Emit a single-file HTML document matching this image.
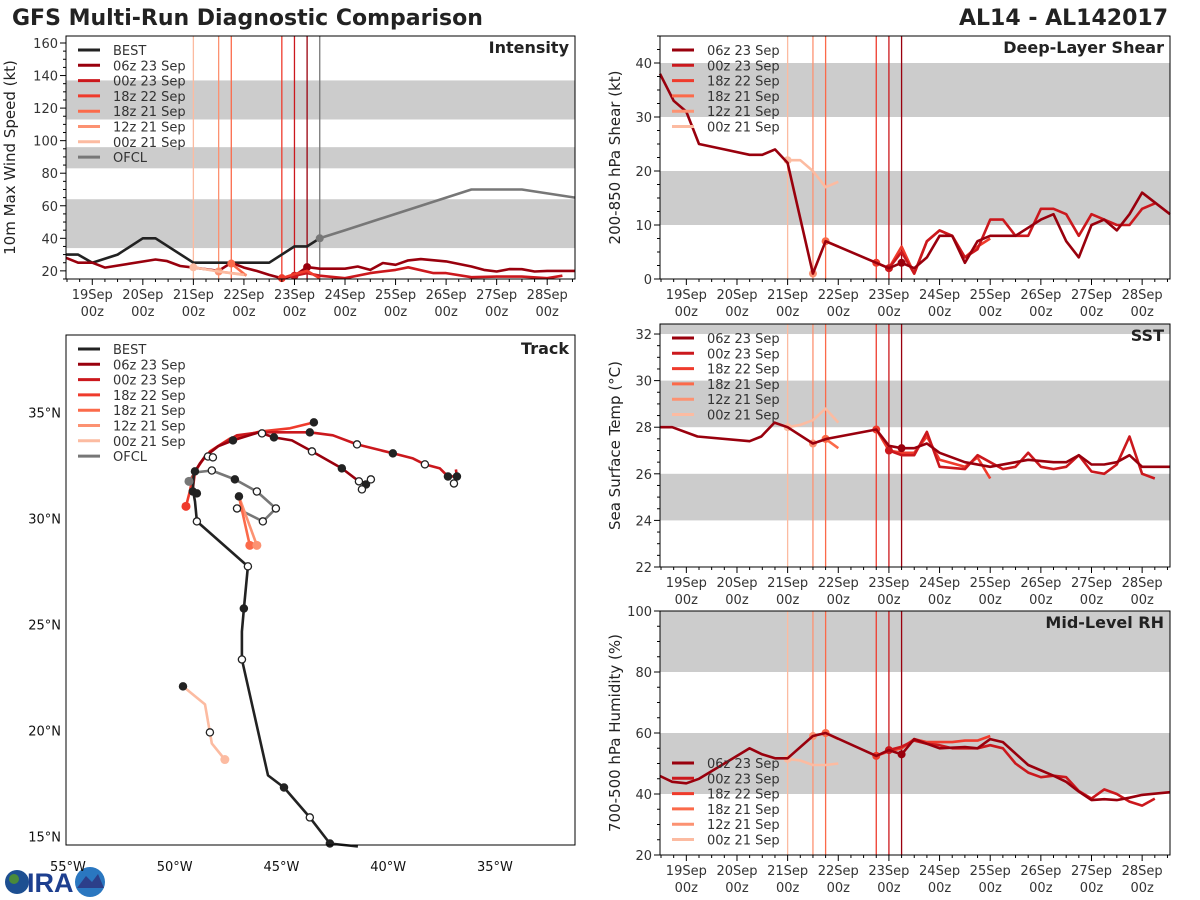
<!DOCTYPE html>
<html><head><meta charset="utf-8"><title>GFS Multi-Run Diagnostic Comparison</title>
<style>
html,body{margin:0;padding:0;background:#fff;}
svg{display:block;font-family:"DejaVu Sans","Liberation Sans",sans-serif;}
</style></head>
<body>
<svg id="chart" xmlns="http://www.w3.org/2000/svg" width="1200" height="900" viewBox="0 0 1200 900">
<rect x="0" y="0" width="1200" height="900" fill="#fff"/>
<text x="12" y="25" font-size="22" font-weight="bold" fill="#222">GFS Multi-Run Diagnostic Comparison</text>
<text x="1168" y="25" font-size="22" font-weight="bold" fill="#222" text-anchor="end">AL14 - AL142017</text>
<g>
<circle cx="17" cy="882" r="12" fill="#1d4f91"/>
<circle cx="14" cy="879" r="5" fill="#4a8a3a"/>
<text x="27" y="892" font-size="27" font-weight="bold" fill="#1d3f8f" font-family="Liberation Sans, sans-serif">IRA</text>
<circle cx="90" cy="882" r="15" fill="#2a77c0"/>
<path d="M77,888 L86,876 L92,882 L98,874 L104,888 Z" fill="#2c3f8a"/>
</g>
</svg>
<script>
// ---------- data (day 0 = 19 Sep 00z) ----------
const dayLabels = ["19Sep","20Sep","21Sep","22Sep","23Sep","24Sep","25Sep","26Sep","27Sep","28Sep"];
const runNames = ["06z 23 Sep","00z 23 Sep","18z 22 Sep","18z 21 Sep","12z 21 Sep","00z 21 Sep"];
const runColors = ["#99000d","#cb181d","#ef3b2c","#fb6a4a","#fc9272","#fcbba1"];
const runTimes = [4.25,4.0,3.75,2.75,2.5,2.0];
const ofclTime = 4.5;

// Intensity (kt)
const intBestT = [-0.52,-0.28,0,0.5,1,1.25,2,3.5,4,4.25,4.5];
const intBestV = [30,30,25,30,40,40,25,25,35,35,40];
const intOfclT = [4.5,5,7.5,8.5,9.55];
const intOfclV = [40,45,70,70,65];
const int06T = [-0.52,-0.28,0,0.25,1.25,1.48,1.74,2.0,2.25,2.5,2.75,3.0,3.25,3.5,3.75,4.0,4.25,4.5,5.0,5.25,5.5,5.75,6.0,6.25,6.5,7.0,7.5,7.75,8.0,8.25,8.5,8.75,9.0,9.55];
const int06V = [28,25,25,22,27,26,23,22,21,20,25,22,20,17.5,15.5,17,22.3,21.3,21.3,22.7,20.6,24.8,23.7,26.4,27.2,25.8,22.7,20.6,19.6,21.1,21,19.6,20,20];
const int00T = [4.0,4.25,4.5,5.0,5.5,6.0,6.25,6.75,7.0,7.5,8.0,8.5,9.0,9.3];
const int00V = [17,18.6,17,15.5,18.6,20.6,22.2,18.6,18.6,16.1,16.5,16.5,15.5,17];
const int18z22T = [3.75,4.0,4.25,4.5];
const int18z22V = [15.5,18,20,15.5];
const int18z21T = [2.75,3.05];
const int18z21V = [24.5,17];
const int12z21T = [2.5,3.05];
const int12z21V = [19.6,17.5];
const int00z21T = [2.0,2.5,3.0];
const int00z21V = [22.2,19.6,17.5];

// Shear (kt)
const shr06T = [-0.52,-0.25,0,0.25,0.75,1.25,1.5,1.75,2.0,2.5,2.75,3.75,4.0,4.25,4.5,4.75,5.0,5.25,5.5,5.75,6.0,6.5,7.0,7.25,7.5,7.75,8.0,8.25,8.5,8.75,9.0,9.55];
const shr06V = [38,33,31,25,24,23,23,24,21.5,1,7,3,2,3,2,4,8,8,3,7,8,8,11,12,7,4,10,11,9,12,16,12];
const shr00T = [4.0,4.25,4.5,4.75,5.0,5.25,5.5,5.75,6.0,6.25,6.5,6.75,7.0,7.25,7.5,7.75,8.0,8.25,8.5,8.75,9.0,9.25];
const shr00V = [2,5,1,7,9,8,4,5.5,11,11,8,8,13,13,12,8,12,11,10,10,13,14];
const shr18z22T = [3.75,4.0,4.25,4.5,4.75,5.0,5.25,5.5,5.75,6.0];
const shr18z22V = [3,2,6,1,7,9,8,4,6,7.5];
const shr18z21T = [2.75,3.0];
const shr18z21V = [7,6];
const shr12z21T = [2.5];
const shr12z21V = [1];
const shr00z21T = [2.0,2.25,2.5,2.75,3.0];
const shr00z21V = [22,22,20,17,18];

// SST (C)
const sst06T = [-0.52,-0.28,0.22,1.25,1.48,1.74,2.0,2.5,2.77,3.75,4.0,4.25,4.5,4.75,5.0,5.5,6.0,6.5,6.75,7.25,7.5,7.75,8.0,8.25,8.5,8.75,9.0,9.55];
const sst06V = [28,28,27.6,27.4,27.6,28.2,28,27.3,27.5,27.9,27.2,27.1,27.1,27.3,26.9,26.5,26.3,26.5,26.6,26.5,26.5,26.8,26.4,26.4,26.5,26.8,26.3,26.3];
const sst00T = [4.0,4.25,4.5,4.75,5.0,5.5,5.75,6.0,6.25,6.5,6.75,7.0,7.25,7.5,7.75,8.0,8.25,8.5,8.75,9.0,9.25];
const sst00V = [27.0,26.8,26.8,27.8,26.3,26.2,26.8,26.5,26.2,26.3,26.9,26.3,26.2,26.3,26.8,26.1,26.0,26.4,27.6,26.0,25.8];
const sst18z22T = [3.75,4.0,4.25,4.5,4.75,5.0,5.5,5.75,6.0];
const sst18z22V = [27.9,27.0,26.9,26.9,27.6,26.6,26.3,26.7,25.8];
const sst18z21T = [2.75,3.0];
const sst18z21V = [27.5,27.1];
const sst12z21T = [2.5];
const sst12z21V = [27.3];
const sst00z21T = [2.0,2.25,2.5,2.75,3.0];
const sst00z21V = [28.0,28.1,28.3,28.8,28.2];

// RH (%)
const rh06T = [-0.52,-0.28,0,0.25,1.25,1.5,1.75,2.0,2.5,2.75,3.75,4.0,4.25,4.5,5.0,5.5,5.75,6.0,6.25,6.75,7.25,7.5,7.75,8.0,8.25,8.5,8.75,9.0,9.55];
const rh06V = [45.9,44,43.5,45,55,53,51.7,51.7,59,60,52.5,54.4,53,58,55,55.4,55,58,57,49.5,46,44,40.8,38,38.3,38,38.8,39.7,40.6];
const rh00T = [4.0,4.25,4.5,4.75,5.0,5.25,5.5,5.75,6.0,6.25,6.5,6.75,7.0,7.25,7.5,7.75,8.0,8.25,8.5,8.75,9.0,9.25];
const rh00V = [54.4,55.5,57.5,56.5,56,55,55,55,56,55,50,47,45.5,46,45.5,41,38.5,41.5,40,37.5,36.2,38.5];
const rh18z22T = [3.75,4.0,4.25,4.5,4.75,5.0,5.25,5.5,5.75,6.0];
const rh18z22V = [52.5,54,55,58,57,57,57,57.5,57.5,59];
const rh18z21T = [2.75,3.0];
const rh18z21V = [60,58];
const rh12z21T = [2.5];
const rh12z21V = [59];
const rh00z21T = [2.0,2.25,2.5,2.75,3.0];
const rh00z21V = [51.5,51,49.5,49.5,50];

// Track (lon, lat)
const trkBestLon = [-41.42,-42.73,-43.67,-44.88,-45.63,-46.85,-46.85,-46.76,-46.57,-48.96,-49.05,-49.15,-49.10];
const trkBestLat = [14.53,14.67,15.90,17.31,17.88,23.35,24.67,25.75,27.74,29.86,30.80,31.37,32.22];
const trkOfclLon = [-49.33,-49.05,-48.26,-47.18,-46.15,-45.26,-45.87,-47.08];
const trkOfclLat = [31.75,32.17,32.26,31.84,31.27,30.47,29.86,30.47];
const trk06Lon = [-49.05,-48.82,-48.58,-47.97,-47.27,-46.05,-45.35,-44.51,-43.57,-42.17,-41.37,-41.00,-40.81];
const trk06Lat = [32.22,32.59,32.92,33.40,33.68,34.06,33.82,33.68,33.16,32.36,31.75,31.65,31.84];
const trk00Lon = [-49.15,-49.05,-48.58,-47.97,-47.08,-46.0,-43.67,-42.59,-41.46,-39.78,-38.84,-38.28,-37.58,-37.2,-36.78,-36.83];
const trk00Lat = [31.37,32.22,32.92,33.40,33.92,34.06,34.06,33.92,33.49,33.07,32.83,32.55,32.36,31.98,31.98,32.31];
const trk18z22Lon = [-49.47,-49.29,-49.15,-48.82,-48.35,-47.41,-46.0,-44.6,-43.48];
const trk18z22Lat = [30.57,31.27,31.98,32.59,33.16,33.77,34.10,34.25,34.53];
const trk18z21Lon = [-46.99,-46.48];
const trk18z21Lat = [31.04,28.73];
const trk12z21Lon = [-46.99,-46.15];
const trk12z21Lat = [31.04,28.73];
const trk00z21Lon = [-49.61,-48.58,-48.35,-48.26,-47.65];
const trk00z21Lat = [22.08,21.23,19.91,19.39,18.63];
const mkLon = [-49.05,-48.44,-48.21,-47.27,-45.91,-45.35,-43.67,-43.57,-42.17,-41.46,-41.37,-41.04,-41.23,-40.81,-39.78,-38.28,-37.20,-36.78,-36.92,-43.48,-49.15,-48.96,-48.26,-47.18,-46.15,-45.26,-45.87,-47.08,-46.99,-48.96,-46.57,-46.76,-46.85,-44.88,-43.67,-42.73,-49.61,-48.35];
const mkLat = [32.22,32.92,32.88,33.68,34.01,33.82,34.06,33.16,32.36,33.49,31.75,31.60,31.37,31.84,33.07,32.55,31.98,31.98,31.65,34.53,31.27,31.18,32.26,31.84,31.27,30.47,29.86,30.47,31.04,29.86,27.74,25.75,23.35,17.31,15.90,14.67,22.08,19.91];
const mkFilled = [1,0,0,1,0,1,1,0,1,0,0,1,0,0,1,0,1,1,0,1,1,1,0,1,0,0,0,0,1,0,0,1,0,1,0,1,1,0];

// ---------- drawing ----------
const svg = document.getElementById('chart');
const NS = 'http://www.w3.org/2000/svg';
function mk(tag, attrs, name, parent) {
  const el = document.createElementNS(NS, tag);
  for (const k in attrs) el.setAttribute(k, attrs[k]);
  
  
  (parent || svg).appendChild(el);
  return el;
}
const D0 = -0.52, D1 = 9.55;

function timePanel(p) {
  const xs = d => p.x0 + (d - D0) / (D1 - D0) * (p.x1 - p.x0);
  const ys = v => p.y1 - (v - p.vmin) / (p.vmax - p.vmin) * (p.y1 - p.y0);
  const g = mk('g', {}, p.name);
  p.bands.forEach((b, i) => {
    const top = ys(Math.min(b[1], p.vmax)), bot = ys(b[0]);
    mk('rect', {x: p.x0, y: top, width: p.x1 - p.x0, height: bot - top, fill: '#cccccc'}, p.name + '-band-' + i, g);
  });
  runTimes.forEach((t, i) => {
    mk('line', {x1: xs(t), x2: xs(t), y1: p.y0, y2: p.y1, stroke: runColors[i], 'stroke-width': 1.3}, 'run-line-' + i, g);
  });
  if (p.ofcl) mk('line', {x1: xs(ofclTime), x2: xs(ofclTime), y1: p.y0, y2: p.y1, stroke: '#777', 'stroke-width': 1.3}, 'ofcl-run-line', g);
  p.series.forEach(s => {
    const pts = s.t.map((t, i) => xs(t).toFixed(1) + ',' + ys(s.v[i]).toFixed(1)).join(' ');
    if (s.t.length > 1) mk('polyline', {points: pts, fill: 'none', stroke: s.c, 'stroke-width': 2.6, 'stroke-linejoin': 'round'}, s.n, g);
    if (s.dot !== undefined) mk('circle', {cx: xs(s.t[s.dot]), cy: ys(s.v[s.dot]), r: 4, fill: s.c}, s.n + '-init-dot', g);
  });
  mk('rect', {x: p.x0, y: p.y0, width: p.x1 - p.x0, height: p.y1 - p.y0, fill: 'none', stroke: '#000', 'stroke-width': 1}, p.name + '-frame', g);
  for (let q = Math.ceil(D0 * 4); q <= Math.floor(D1 * 4); q++) {
    const d = q / 4, x = xs(d), major = q % 4 === 0;
    mk('line', {x1: x, x2: x, y1: p.y1, y2: p.y1 + (major ? 6 : 3), stroke: '#000'}, 'x-tick', g);
    if (major) {
      const t1 = mk('text', {x: x, y: p.y1 + 20, 'font-size': 13, fill: '#333', 'text-anchor': 'middle'}, 'x-tick-label-date', g);
      t1.textContent = dayLabels[q / 4];
      const t2 = mk('text', {x: x, y: p.y1 + 37, 'font-size': 13, fill: '#333', 'text-anchor': 'middle'}, 'x-tick-label-hour', g);
      t2.textContent = '00z';
    }
  }
  for (let v = p.vmin; v <= p.vmax + 1e-6; v += p.minor) {
    const vv = Math.round(v * 100) / 100;
    const y = ys(vv);
    const major = Math.abs(vv / p.major - Math.round(vv / p.major)) < 1e-6;
    mk('line', {x1: p.x0 - (major ? 6 : 3), x2: p.x0, y1: y, y2: y, stroke: '#000'}, 'y-tick', g);
    if (major && vv >= p.labMin) {
      const t = mk('text', {x: p.x0 - 8, y: y + 5, 'font-size': 13, fill: '#333', 'text-anchor': 'end'}, 'y-tick-label', g);
      t.textContent = String(vv);
    }
  }
  const yl = mk('text', {x: p.ylx, y: (p.y0 + p.y1) / 2, 'font-size': 15, fill: '#222', 'text-anchor': 'middle', transform: 'rotate(-90 ' + p.ylx + ' ' + (p.y0 + p.y1) / 2 + ')'}, 'y-axis-title', g);
  yl.textContent = p.ylabel;
  const pt = mk('text', {x: p.x1 - 6, y: p.y0 + 17, 'font-size': 16, 'font-weight': 'bold', fill: '#222', 'text-anchor': 'end'}, 'panel-title', g);
  pt.textContent = p.title;
  legend(g, p.x0 + 12, p.legY, p.legend);
}

function legend(g, x, y0, entries) {
  const lg = mk('g', {}, 'legend', g);
  entries.forEach((e, i) => {
    const y = y0 + i * 15.3;
    mk('line', {x1: x, x2: x + 22, y1: y, y2: y, stroke: e[1], 'stroke-width': 3}, 'legend-swatch', lg);
    const t = mk('text', {x: x + 35, y: y + 5, 'font-size': 13, fill: '#333'}, 'legend-entry', lg);
    t.textContent = e[0];
  });
}

const runLeg = runNames.map((n, i) => [n, runColors[i]]);
const fullLeg = [['BEST', '#222']].concat(runLeg).concat([['OFCL', '#777']]);

function runSeries(prefix, arrs) {
  return arrs.map((a, i) => ({n: prefix + '-' + runNames[i].replace(/ /g, '').toLowerCase(), t: a[0], v: a[1], c: runColors[i], dot: a[2]}));
}

timePanel({name: 'intensity-panel', x0: 66, x1: 575, y0: 36, y1: 279, vmin: 15, vmax: 164.3, major: 20, minor: 5, labMin: 20,
  bands: [[34, 64], [83, 96], [113, 137]], ofcl: true, ylx: 15, ylabel: '10m Max Wind Speed (kt)', title: 'Intensity', legY: 50, legend: fullLeg,
  series: [{n: 'intensity-best', t: intBestT, v: intBestV, c: '#222'}, {n: 'intensity-ofcl', t: intOfclT, v: intOfclV, c: '#777', dot: 0}]
    .concat(runSeries('intensity', [[int00z21T, int00z21V, 0], [int12z21T, int12z21V, 0], [int18z21T, int18z21V, 0], [int18z22T, int18z22V, 0], [int00T, int00V, 0], [int06T, int06V, 16]].reverse()))});

timePanel({name: 'shear-panel', x0: 660, x1: 1170, y0: 36, y1: 279, vmin: 0, vmax: 45, major: 10, minor: 2.5, labMin: 0,
  bands: [[10, 20], [30, 40]], ylx: 620, ylabel: '200-850 hPa Shear (kt)', title: 'Deep-Layer Shear', legY: 50, legend: runLeg,
  series: runSeries('shear', [[shr00z21T, shr00z21V, 0], [shr12z21T, shr12z21V, 0], [shr18z21T, shr18z21V, 0], [shr18z22T, shr18z22V, 0], [shr00T, shr00V, 0], [shr06T, shr06V, 13]].reverse()).reverse()});

timePanel({name: 'sst-panel', x0: 660, x1: 1170, y0: 324, y1: 567, vmin: 22, vmax: 32.43, major: 2, minor: 0.5, labMin: 22,
  bands: [[24, 26], [28, 30], [32, 40]], ylx: 620, ylabel: 'Sea Surface Temp (\u00B0C)', title: 'SST', legY: 338, legend: runLeg,
  series: runSeries('sst', [[sst00z21T, sst00z21V, 0], [sst12z21T, sst12z21V, 0], [sst18z21T, sst18z21V, 0], [sst18z22T, sst18z22V, 0], [sst00T, sst00V, 0], [sst06T, sst06V, 11]].reverse()).reverse()});

timePanel({name: 'rh-panel', x0: 660, x1: 1170, y0: 611, y1: 855, vmin: 20, vmax: 100, major: 20, minor: 5, labMin: 20,
  bands: [[40, 60], [80, 100]], ylx: 620, ylabel: '700-500 hPa Humidity (%)', title: 'Mid-Level RH', legY: 763, legend: runLeg,
  series: runSeries('rh', [[rh00z21T, rh00z21V, 0], [rh12z21T, rh12z21V, 0], [rh18z21T, rh18z21V, 0], [rh18z22T, rh18z22V, 0], [rh00T, rh00V, 0], [rh06T, rh06V, 12]].reverse()).reverse()});

(function () {
  const T = {x0: 66, x1: 575, y0: 335, y1: 845, lon0: -55.09, lon1: -31.25, lat0: 14.6, lat1: 38.65};
  const lx = lon => T.x0 + (lon - T.lon0) / (T.lon1 - T.lon0) * (T.x1 - T.x0);
  const ly = lat => T.y1 - (lat - T.lat0) / (T.lat1 - T.lat0) * (T.y1 - T.y0);
  const g = mk('g', {}, 'track-panel');
  mk('rect', {x: T.x0, y: T.y0, width: T.x1 - T.x0, height: T.y1 - T.y0, fill: '#fff'}, 'track-map-area', g);
  const tracks = [
    ['track-ofcl', trkOfclLon, trkOfclLat, '#777'],
    ['track-00z21sep', trk00z21Lon, trk00z21Lat, runColors[5]],
    ['track-12z21sep', trk12z21Lon, trk12z21Lat, runColors[4]],
    ['track-18z21sep', trk18z21Lon, trk18z21Lat, runColors[3]],
    ['track-18z22sep', trk18z22Lon, trk18z22Lat, runColors[2]],
    ['track-00z23sep', trk00Lon, trk00Lat, runColors[1]],
    ['track-06z23sep', trk06Lon, trk06Lat, runColors[0]],
    ['track-best', trkBestLon, trkBestLat, '#222']
  ];
  tracks.forEach(tr => {
    const pts = tr[1].map((lo, i) => lx(lo).toFixed(1) + ',' + ly(tr[2][i]).toFixed(1)).join(' ');
    mk('polyline', {points: pts, fill: 'none', stroke: tr[3], 'stroke-width': 2.6, 'stroke-linejoin': 'round'}, tr[0], g);
  });
  mk('circle', {cx: lx(trk18z22Lon[0]), cy: ly(trk18z22Lat[0]), r: 4.5, fill: runColors[2]}, 'track-18z22sep-dot', g);
  mk('circle', {cx: lx(trk18z21Lon[1]), cy: ly(trk18z21Lat[1]), r: 4.5, fill: runColors[3]}, 'track-18z21sep-dot', g);
  mk('circle', {cx: lx(trk12z21Lon[1]), cy: ly(trk12z21Lat[1]), r: 4.5, fill: runColors[4]}, 'track-12z21sep-dot', g);
  mk('circle', {cx: lx(trk00z21Lon[4]), cy: ly(trk00z21Lat[4]), r: 4.5, fill: runColors[5]}, 'track-00z21sep-dot', g);
  mk('circle', {cx: lx(trkOfclLon[0]), cy: ly(trkOfclLat[0]), r: 4.5, fill: '#777'}, 'track-ofcl-dot', g);
  mkLon.forEach((lo, i) => {
    mk('circle', {cx: lx(lo), cy: ly(mkLat[i]), r: 3.6, fill: mkFilled[i] ? '#222' : '#fff', stroke: '#222', 'stroke-width': 1.3}, 'track-position-marker', g);
  });
  mk('rect', {x: T.x0, y: T.y0, width: T.x1 - T.x0, height: T.y1 - T.y0, fill: 'none', stroke: '#000', 'stroke-width': 1}, 'track-frame', g);
  [-55, -50, -45, -40, -35].forEach(lo => {
    const t = mk('text', {x: lx(lo), y: 871, 'font-size': 13, fill: '#111', 'text-anchor': 'middle'}, 'lon-tick-label', g);
    t.textContent = (-lo) + '\u00B0W';
  });
  [15, 20, 25, 30, 35].forEach(la => {
    const t = mk('text', {x: 61, y: ly(la) + 5, 'font-size': 13, fill: '#111', 'text-anchor': 'end'}, 'lat-tick-label', g);
    t.textContent = la + '\u00B0N';
  });
  const pt = mk('text', {x: T.x1 - 6, y: T.y0 + 19, 'font-size': 16, 'font-weight': 'bold', fill: '#222', 'text-anchor': 'end'}, 'panel-title', g);
  pt.textContent = 'Track';
  legend(g, T.x0 + 12, 349, fullLeg);
})();
</script>
</body></html>
